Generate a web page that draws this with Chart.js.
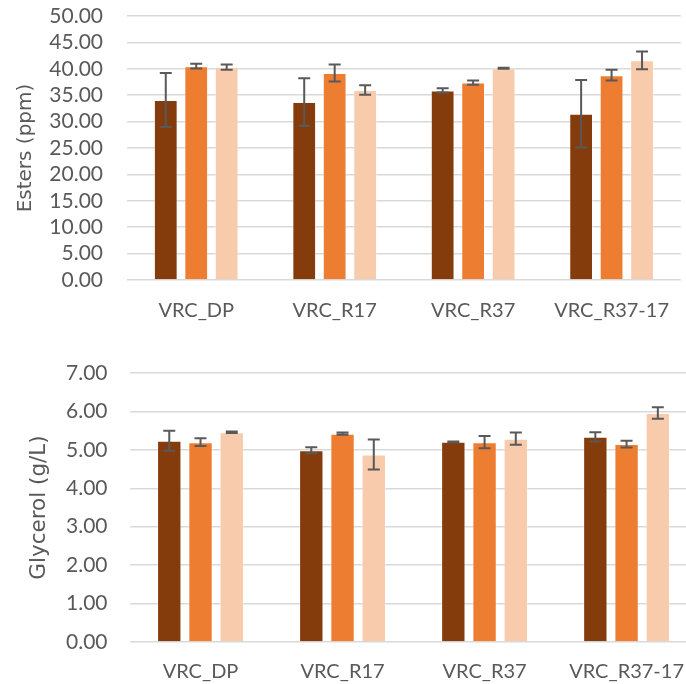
<!DOCTYPE html>
<html>
<head>
<meta charset="utf-8">
<script src="https://cdn.jsdelivr.net/npm/chart.js@4/dist/chart.umd.min.js"></script>
<style>
    html, body { margin: 0; padding: 0; background: #fff; overflow: hidden; width: 686px; height: 684px; }
    #top-box { position: absolute; left: 0; top: 0; width: 688px; height: 340px; }
    #bottom-box { position: absolute; left: 0; top: 340px; width: 702px; height: 344px; }
</style>
</head>
<body>
<div id="top-box"><canvas id="esters-chart"></canvas></div>
<div id="bottom-box"><canvas id="glycerol-chart"></canvas></div>
<script>
const categories = ['VRC_DP', 'VRC_R17', 'VRC_R37', 'VRC_R37-17'];

// esters (ppm), three series per category
const estersA = [34.1, 33.7, 35.9, 31.5];
const estersAErr = [5.1, 4.5, 0.4, 6.4];
const estersB = [40.5, 39.2, 37.4, 38.8];
const estersBErr = [0.45, 1.6, 0.4, 1.0];
const estersC = [40.3, 36.0, 40.1, 41.6];
const estersCErr = [0.5, 0.9, 0.1, 1.7];

// glycerol (g/L)
const glycerolA = [5.24, 4.99, 5.21, 5.34];
const glycerolAErr = [0.26, 0.08, 0.01, 0.12];
const glycerolB = [5.20, 5.42, 5.20, 5.15];
const glycerolBErr = [0.10, 0.03, 0.16, 0.09];
const glycerolC = [5.46, 4.88, 5.29, 5.96];
const glycerolCErr = [0.02, 0.39, 0.16, 0.15];

const colors = ['#843C0C', '#ED7D31', '#F8CBAD'];
const textColor = '#595959';

// draws the error bars using the chart's own y scale
const errorBars = {
    id: 'errorBars',
    afterDatasetsDraw(chart) {
        const ctx = chart.ctx;
        const y = chart.scales.y;
        ctx.save();
        ctx.strokeStyle = '#595959';
        ctx.lineWidth = 2;
        chart.data.datasets.forEach((ds, i) => {
            const meta = chart.getDatasetMeta(i);
            meta.data.forEach((bar, j) => {
                const v = ds.data[j];
                const e = ds.errors[j];
                const hi = y.getPixelForValue(v + e);
                const lo = y.getPixelForValue(v - e);
                ctx.beginPath();
                ctx.moveTo(bar.x, hi);
                ctx.lineTo(bar.x, lo);
                ctx.moveTo(bar.x - 6, hi);
                ctx.lineTo(bar.x + 6, hi);
                ctx.moveTo(bar.x - 6, lo);
                ctx.lineTo(bar.x + 6, lo);
                ctx.stroke();
            });
        });
        ctx.restore();
    }
};

function makeChart(canvas, series, errs, opts) {
    return new Chart(canvas.getContext('2d'), {
        type: 'bar',
        data: {
            labels: categories,
            datasets: series.map((s, i) => ({
                label: 'Series ' + (i + 1),
                data: s,
                errors: errs[i],
                backgroundColor: colors[i],
                borderColor: 'rgba(255,255,255,0.35)',
                borderWidth: 1,
                categoryPercentage: 0.66,
                barPercentage: 0.78
            }))
        },
        options: {
            responsive: true,
            maintainAspectRatio: false,
            animation: false,
            layout: { padding: { top: opts.padTop, left: 0, right: 0, bottom: 0 } },
            plugins: { legend: { display: false }, tooltip: { enabled: false } },
            scales: {
                x: {
                    grid: { display: false, drawTicks: false },
                    border: { display: false },
                    ticks: { color: textColor, font: { family: 'Lato', size: 20 }, padding: opts.xPad, maxRotation: 0, autoSkip: false },
                    afterFit: s => { s.height = opts.xHeight; }
                },
                y: {
                    min: 0,
                    max: opts.max,
                    grid: { color: '#d9d9d9', lineWidth: 1.5, drawTicks: false },
                    border: { display: false },
                    ticks: {
                        stepSize: opts.step,
                        autoSkip: false,
                        color: textColor,
                        font: { family: 'Lato', size: 21 },
                        padding: opts.yPad,
                        callback: v => v.toFixed(2)
                    },
                    title: {
                        display: true,
                        text: opts.title,
                        color: textColor,
                        font: { family: 'DejaVu Sans', size: opts.titleSize },
                        padding: { top: opts.titlePad, bottom: 0 }
                    },
                    afterFit: s => {
                        s.width = opts.yWidth;
                        s.paddingTop = 0;
                        s.paddingBottom = 0;
                    }
                }
            }
        },
        plugins: [errorBars]
    });
}

makeChart(document.getElementById('esters-chart'),
    [estersA, estersB, estersC], [estersAErr, estersBErr, estersCErr],
    { max: 50, step: 5, title: 'Esters (ppm)', titleSize: 20, padTop: 16, xPad: 19, xHeight: 60, yPad: 24, titlePad: 14, yWidth: 127 });

makeChart(document.getElementById('glycerol-chart'),
    [glycerolA, glycerolB, glycerolC], [glycerolAErr, glycerolBErr, glycerolCErr],
    { max: 7, step: 1, title: 'Glycerol (g/L)', titleSize: 21.5, padTop: 33, xPad: 18, xHeight: 42, yPad: 22, titlePad: 27, yWidth: 129.5 });
</script>
</body>
</html>
